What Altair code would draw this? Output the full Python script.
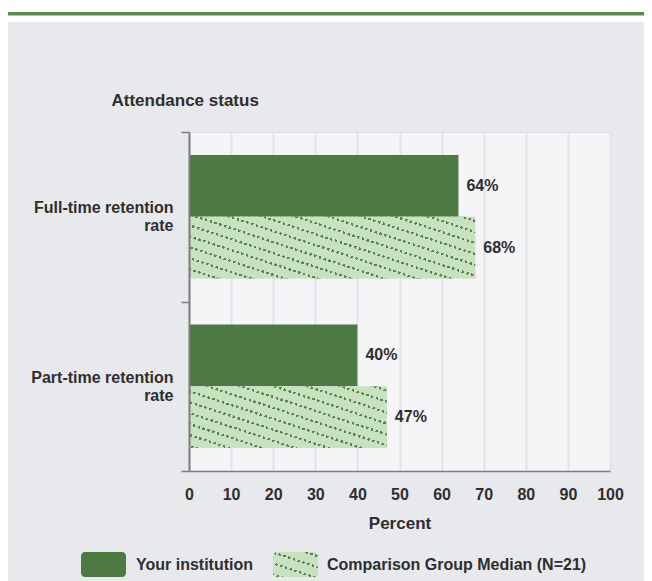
import math
import altair as alt
import pandas as pd

# ---------------- data ----------------
categories = ["Full-time retention rate", "Part-time retention rate"]
series = ["Your institution", "Comparison Group Median (N=21)"]
your_values = [64, 40]
comparison_values = [68, 47]
x_ticks = [0, 10, 20, 30, 40, 50, 60, 70, 80, 90, 100]

rows = []
for c, a, b in zip(categories, your_values, comparison_values):
    rows.append({"category": c, "series": series[0], "value": a})
    rows.append({"category": c, "series": series[1], "value": b})
df = pd.DataFrame(rows)
df["label"] = df["value"].astype(str) + "%"

# ---------------- style ----------------
W, H = 421, 339
PAD_L, PAD_T = 181, 124
PAD_R = 636 - PAD_L - W
PAD_B = 150
DARK = "#4d7a43"
LIGHT = "#c8e1c0"
DOT = "#55874b"
PANEL = "#e8e9ed"
PLOT_BG = "#f5f5f7"
GRID = "#e2e3e7"
AXIS = "#7d7d7d"
TEXT = "#2e2e2e"
GREEN_LINE = "#5b8a4f"
FONT = "Liberation Sans"
PAD_OUTER = 0.375
SLOPE = 0.33

band = H / len(categories)
bar_h = band / (len(series) + 2 * PAD_OUTER)


def gradient(w, h, direction, period, on_len, on_color, off_color, phase=0.0):
    dx, dy = direction
    norm = math.hypot(dx, dy)
    nx, ny = dx / norm, dy / norm
    L = abs(nx) * w + abs(ny) * h
    Q = nx * nx * w * w + ny * ny * h * h
    k = L / Q
    a, b = k * nx * w, k * ny * h
    u0 = 1.0 if nx < 0 else 0.0
    v0 = 1.0 if ny < 0 else 0.0
    stops = [alt.GradientStop(color=off_color, offset=0)]
    d = phase
    while d < L:
        s0 = round(d / L, 5)
        s1 = round(min((d + on_len) / L, 1.0), 5)
        stops += [
            alt.GradientStop(color=off_color, offset=s0),
            alt.GradientStop(color=on_color, offset=s0),
            alt.GradientStop(color=on_color, offset=s1),
            alt.GradientStop(color=off_color, offset=s1),
        ]
        d += period
    stops.append(alt.GradientStop(color=off_color, offset=1))
    return alt.LinearGradient(
        gradient="linear", stops=stops,
        x1=u0, y1=v0, x2=round(u0 + a, 5), y2=round(v0 + b, 5),
    )


def hatch_stripes(w, h):
    # dotted diagonal lines: dark stripes...
    return gradient(w, h, (-SLOPE, 1), 10.4, 2.3, DOT, LIGHT, phase=3)


def hatch_gaps(w, h):
    # ...cut into dots by a light overlay with transparent windows
    return gradient(w, h, (1, SLOPE), 5.0, 2.4, "rgba(0,0,0,0)", LIGHT, phase=1)


# ---------------- encodings ----------------
x_enc = alt.X(
    "value:Q",
    scale=alt.Scale(domain=[0, 100], nice=False, zero=True),
    axis=alt.Axis(
        values=x_ticks, grid=True, gridColor=GRID, gridWidth=2,
        ticks=False, tickSize=0, domain=True, domainColor=AXIS, domainWidth=1.5,
        labelFont=FONT, labelFontSize=16, labelFontWeight="bold", labelColor=TEXT,
        labelPadding=15, labelFlush=False,
        title="Percent", titleFont=FONT, titleFontSize=17, titleFontWeight="bold",
        titleColor=TEXT, titleY=57, titleBaseline="alphabetic",
    ),
)
y_enc = alt.Y(
    "category:N",
    sort=categories,
    scale=alt.Scale(domain=categories, paddingInner=0, paddingOuter=0),
    axis=alt.Axis(
        title="Attendance status", titleAngle=0, titleAlign="left",
        titleX=-78, titleY=-27, titleBaseline="alphabetic",
        titleFont=FONT, titleFontSize=17, titleFontWeight="bold", titleColor=TEXT,
        labelExpr="[slice(datum.label, 0, lastindexof(datum.label, ' ')), slice(datum.label, lastindexof(datum.label, ' ') + 1)]",
        labelFont=FONT, labelFontSize=16, labelFontWeight="bold", labelColor=TEXT,
        labelLineHeight=18, labelPadding=8, labelBaseline="middle", labelAlign="right",
        labelOffset=-9, labelLimit=300,
        tickBand="extent", tickSize=8, tickColor=AXIS, tickWidth=1.5,
        domainColor=AXIS, domainWidth=2, grid=False, zindex=1,
    ),
)
yoff_enc = alt.YOffset(
    "series:N", sort=series,
    scale=alt.Scale(domain=series, paddingInner=0, paddingOuter=PAD_OUTER),
)

base = alt.Chart(df)

layers = []

# top white strip + green rule (page decoration)
one = alt.Chart(pd.DataFrame({"k": [0]}))
layers.append(one.mark_rect(color="white").encode(
    x=alt.value(-PAD_L - 2), x2=alt.value(W + PAD_R + 2),
    y=alt.value(-PAD_T - 2), y2=alt.value(-110)))
layers.append(one.mark_rect(color=GREEN_LINE).encode(
    x=alt.value(-PAD_L - 1), x2=alt.value(W + PAD_R + 2),
    y=alt.value(-120), y2=alt.value(-116.5)))

# institution bars
layers.append(
    base.transform_filter(alt.datum.series == series[0])
    .mark_bar(color=DARK)
    .encode(x=x_enc, y=y_enc, yOffset=yoff_enc)
)

# comparison bars (hatched)
for c, v in zip(categories, comparison_values):
    w = v / 100 * W
    sub = base.transform_filter(
        (alt.datum.series == series[1]) & (alt.datum.category == c))
    layers.append(sub.mark_bar(fill=hatch_stripes(w, bar_h))
                  .encode(x=x_enc, y=y_enc, yOffset=yoff_enc))
    layers.append(sub.mark_bar(fill=hatch_gaps(w, bar_h))
                  .encode(x=x_enc, y=y_enc, yOffset=yoff_enc))

# value labels
layers.append(
    base.mark_text(align="left", baseline="middle", dx=8, font=FONT, fontSize=16,
                   fontWeight="bold", color=TEXT)
    .encode(x=x_enc, y=y_enc, yOffset=yoff_enc, text="label:N")
)

# legend (manual, to show the hatched swatch)
LY0, LY1 = 420, 445
sw1 = (-108, -63)
sw2 = (84, 129)
layers.append(one.mark_rect(color=DARK, cornerRadius=4).encode(
    x=alt.value(sw1[0]), x2=alt.value(sw1[1]), y=alt.value(LY0), y2=alt.value(LY1)))
layers.append(one.mark_rect(fill=hatch_stripes(45, 25), cornerRadius=4).encode(
    x=alt.value(sw2[0]), x2=alt.value(sw2[1]), y=alt.value(LY0), y2=alt.value(LY1)))
layers.append(one.mark_rect(fill=hatch_gaps(45, 25), cornerRadius=4).encode(
    x=alt.value(sw2[0]), x2=alt.value(sw2[1]), y=alt.value(LY0), y2=alt.value(LY1)))
leg_text = dict(align="left", baseline="middle", font=FONT, fontSize=16,
                fontWeight="bold", color=TEXT)
layers.append(one.mark_text(text=series[0], **leg_text).encode(
    x=alt.value(sw1[1] + 10), y=alt.value((LY0 + LY1) / 2)))
layers.append(one.mark_text(text=series[1], **leg_text).encode(
    x=alt.value(sw2[1] + 9), y=alt.value((LY0 + LY1) / 2)))

chart = (
    alt.layer(*layers)
    .properties(
        width=W, height=H,
        autosize=alt.AutoSizeParams(type="none"),
        padding={"left": PAD_L, "top": PAD_T, "right": PAD_R, "bottom": PAD_B},
        background=PANEL,
    )
    .configure_view(fill=PLOT_BG, stroke="#dcdde1", strokeWidth=1)
)

chart.save("out.html", embed_options={"renderer": "svg", "actions": False})
